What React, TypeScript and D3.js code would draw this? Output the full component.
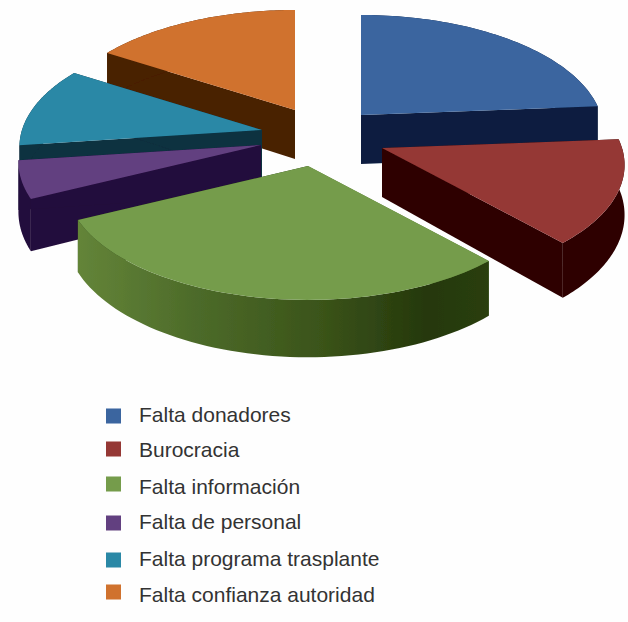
import React from "react";
import * as d3 from "d3";

const categories = ["Falta donadores", "Burocracia", "Falta información", "Falta de personal", "Falta programa trasplante", "Falta confianza autoridad"];
const shares = [23.8, 14.5, 29.5, 5.2, 11.1, 16.0];
const topColors = ["#3a659f", "#953735", "#749c4c", "#624080", "#2b88a6", "#d0722f"];
const wallColors = ["#0b1d40", "#2e0303", "url(#greenWall)", "#240c3c", "#0a303f", "#4a2000"];
const apexX = [361, 382, 308, 261, 262, 295];
const apexY = [115, 148, 166, 145, 130, 110];
const legendRowY = [416, 449, 484, 523, 560, 592];
const labelBaseline = [422, 457, 494, 529, 566, 602];
const drawOrder = [5, 0, 4, 3, 1, 2];

const RX = 240, RY = 114.5, P = 0.145, DEPTH = 49;

const pie = d3.pie<number>().sort(null).value((d) => d);
const arcs = pie(shares);
const line = d3.line<[number, number]>().x((d) => d[0]).y((d) => d[1]);

function project(angle: number): { dx: number; dy: number; s: number } {
  const X = Math.sin(angle), Z = -Math.cos(angle);
  const s = 1 / (1 - P * Z);
  return { dx: RX * X * s, dy: RY * Z * s, s };
}

function Slice({ i }: { i: number }) {
  const a = arcs[i];
  const cx = apexX[i], cy = apexY[i];
  const angles = d3.range(0, 61).map((k) => a.startAngle + ((a.endAngle - a.startAngle) * k) / 60);
  const rim = angles.map(project);
  const top: [number, number][] = rim.map((p) => [cx + p.dx, cy + p.dy]);
  const bottom: [number, number][] = rim.map((p) => [cx + p.dx, cy + p.dy + DEPTH * p.s]);
  const apexTop: [number, number] = [cx, cy];
  const apexBottom: [number, number] = [cx, cy + DEPTH];
  const first = top.length - 1;
  const startWall: [number, number][] = [apexTop, top[0], bottom[0], apexBottom];
  const endWall: [number, number][] = [apexTop, top[first], bottom[first], apexBottom];
  const arcWall: [number, number][] = [...top, ...[...bottom].reverse()];
  const fill = wallColors[i];
  const closed = (pts: [number, number][]) => (line(pts) ?? "") + "Z";
  return (
    <g>
      <path d={closed(startWall)} fill={fill === "url(#greenWall)" ? "#5d7c34" : fill} />
      <path d={closed(endWall)} fill={fill === "url(#greenWall)" ? "#23350c" : fill} />
      <path d={closed(arcWall)} fill={fill} />
      <path d={closed([apexTop, ...top])} fill={topColors[i]} />
    </g>
  );
}

export default function App() {
  return (
    <svg width={628} height={622} style={{ position: "absolute", left: 0, top: 0, background: "#fefefe" }} fontFamily="'Liberation Sans', Arial, sans-serif">
      <defs>
        <linearGradient id="greenWall" gradientUnits="userSpaceOnUse" x1={75} x2={490} y1={0} y2={0}>
          <stop offset="0" stopColor="#648539" />
          <stop offset="0.3" stopColor="#4c6a29" />
          <stop offset="0.6" stopColor="#3a5319" />
          <stop offset="0.85" stopColor="#25380c" />
          <stop offset="1" stopColor="#2a3f10" />
        </linearGradient>
        <filter id="soft" x="-5%" y="-5%" width="110%" height="110%">
          <feGaussianBlur stdDeviation="0.6" />
        </filter>
      </defs>
      <g filter="url(#soft)">
        {drawOrder.map((i) => (
          <Slice key={i} i={i} />
        ))}
      </g>
      <g filter="url(#soft)">
        {categories.map((c, i) => (
          <rect key={c} x={106} y={legendRowY[i] - 7.5} width={15} height={15} fill={topColors[i]} />
        ))}
      </g>
      {categories.map((c, i) => (
        <text key={c} x={139} y={labelBaseline[i]} fontSize={21} fill="#333">
          {c}
        </text>
      ))}
    </svg>
  );
}
